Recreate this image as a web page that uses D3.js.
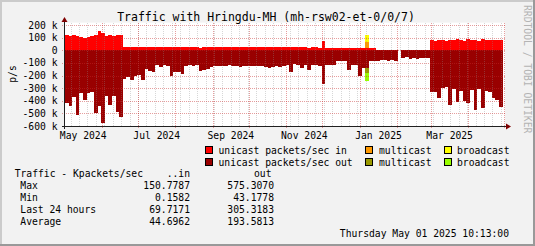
<!DOCTYPE html>
<html>
<head>
<meta charset="utf-8">
<script src="https://cdn.jsdelivr.net/npm/d3@7"></script>
<style>
  body { margin: 0; background: #f2f2f2; }
  svg { display: block; font-family: "DejaVu Sans Mono", monospace; }
</style>
</head>
<body>
<svg width="535" height="246"></svg>
<script>
// time range of the graph (one year) and bin size of the values below
const startDate = new Date(2024, 4, 1, 10, 13);
const endDate = new Date(2025, 4, 1, 10, 13);
const dataEnd = new Date(2025, 3, 30, 0, 0);
const binDays = 3;

// Kpackets/sec, one value per 3-day bin, null = no data
const unicastIn = [
  118,117,119,115,104,96,105,112,118,150,136,112,118,110,120,118,
  28,27,28,26,27,28,27,26,27,28,26,27,27,26,28,27,26,27,26,25,26,
  18,
  27,28,28,27,28,28,27,27,26,27,26,26,25,26,25,24,25,24,25,24,24,23,24,23,24,23,23,24,23,22,23,23,22,
  72,
  22,22,21,22,22,21,22,21,21,20,20,
  20,
  18,15,
  2,1,2,1,1,2,
  null,
  1,2,1,1,2,1,1,1,
  82,78,85,80,76,84,79,86,81,77,88,80,83,78,86,79,84,81,85,80,83
];
const unicastOut = [
  420,445,370,510,335,390,335,330,500,440,575,360,430,360,490,530,
  225,215,235,
  200,195,235,150,165,175,120,130,120,125,200,170,175,190,125,120,122,120,160,155,150,130,
  125,122,128,124,120,126,123,130,125,122,127,121,125,128,135,
  140,130,128,132,126,
  115,170,110,120,140,
  118,155,120,115,122,
  263,
  120,118,115,
  85,82,88,155,
  120,115,205,
  140,
  140,
  88,82,85,80,75,88,78,82,
  null,
  60,55,65,58,70,62,60,58,
  330,330,375,300,290,435,310,410,320,405,420,315,470,310,455,320,330,380,395,452,340
];
// the one burst of multicast / broadcast traffic (bin index)
const burstBins = [83];
const multicastIn = [48];
const broadcastIn = [52];
const multicastOut = [40];
const broadcastOut = [62];

const yTicks = [200, 100, 0, -100, -200, -300, -400, -500, -600];
const xLabels = ['May 2024', 'Jul 2024', 'Sep 2024', 'Nov 2024', 'Jan 2025', 'Mar 2025'];
const xLabelMonths = [new Date(2024, 4, 1), new Date(2024, 6, 1), new Date(2024, 8, 1),
  new Date(2024, 10, 1), new Date(2025, 0, 1), new Date(2025, 2, 1)];

const legendNames = ['unicast packets/sec in', 'multicast', 'broadcast',
  'unicast packets/sec out', 'multicast', 'broadcast'];
const legendColors = ['#ff0000', '#ff9900', '#ffff00', '#990000', '#999900', '#99ff00'];

const statLabels = ['Max', 'Min', 'Last 24 hours', 'Average'];
const statIn = ['150.7787', '0.1582', '69.7171', '44.6962'];
const statOut = ['575.3070', '43.1778', '305.3183', '193.5813'];

var svg = d3.select('svg');

// background with rrdtool style shading
svg.append('rect').attr('width', 535).attr('height', 246).attr('fill', '#f2f2f2');
svg.append('path').attr('d', 'M0,0H535V2H2V246H0Z').attr('fill', '#cbcbcb');
svg.append('path').attr('d', 'M535,246H0V244H533V0H535Z').attr('fill', '#999999');

var x = d3.scaleTime().domain([startDate, endDate]).range([65, 505]);
var y = d3.scaleLinear().domain([-600, 220]).range([126, 22.6]);

// plot canvas
svg.append('rect')
  .attr('x', 65).attr('y', y(220))
  .attr('width', 440).attr('height', y(-600) - y(220))
  .attr('fill', '#ffffff');

// build the table the stack needs
var rows = unicastIn.map((v, i) => {
  var b = burstBins.indexOf(i);
  var t0 = d3.timeDay.offset(startDate, i * binDays);
  var t1 = d3.timeDay.offset(startDate, (i + 1) * binDays);
  return {
    t0: t0, t1: t1 > dataEnd ? dataEnd : t1, ok: v !== null,
    uIn: v || 0, mIn: b < 0 ? 0 : multicastIn[b], bIn: b < 0 ? 0 : broadcastIn[b],
    uOut: -(unicastOut[i] || 0), mOut: b < 0 ? 0 : -multicastOut[b], bOut: b < 0 ? 0 : -broadcastOut[b]
  };
}).filter(d => d.ok && d.t0 < dataEnd);

var keys = ['uIn', 'mIn', 'bIn', 'uOut', 'mOut', 'bOut'];
var colorOf = { uIn: '#ff0000', mIn: '#ff9900', bIn: '#ffff00', uOut: '#990000', mOut: '#999900', bOut: '#99ff00' };
var stacked = d3.stack().keys(keys).offset(d3.stackOffsetDiverging)(rows);

stacked.forEach(layer => {
  svg.append('g')
    .attr('fill', colorOf[layer.key])
    .attr('shape-rendering', 'crispEdges')
    .selectAll('rect')
    .data(layer.filter(s => s[0] !== s[1]))
    .enter()
    .append('rect')
    .attr('x', s => x(s.data.t0))
    .attr('width', s => x(s.data.t1) - x(s.data.t0))
    .attr('y', s => y(Math.max(s[0], s[1])))
    .attr('height', s => Math.abs(y(s[0]) - y(s[1])));
});

// grid on top of the data
var grid = svg.append('g').attr('shape-rendering', 'crispEdges');
grid.selectAll('.minor')
  .data(d3.timeMonday.range(startDate, endDate))
  .enter().append('line')
  .attr('x1', d => Math.round(x(d)) + 0.5).attr('x2', d => Math.round(x(d)) + 0.5)
  .attr('y1', y(220)).attr('y2', y(-600))
  .attr('stroke', 'rgba(140,140,140,0.35)').attr('stroke-dasharray', '1,1');
grid.selectAll('.major')
  .data(d3.timeMonth.range(d3.timeMonth.ceil(startDate), endDate))
  .enter().append('line')
  .attr('x1', d => Math.round(x(d)) + 0.5).attr('x2', d => Math.round(x(d)) + 0.5)
  .attr('y1', y(220)).attr('y2', y(-600) + 2)
  .attr('stroke', 'rgba(200,40,40,0.45)').attr('stroke-dasharray', '1,1');
grid.selectAll('.hgrid')
  .data(yTicks)
  .enter().append('line')
  .attr('x1', 62).attr('x2', 505)
  .attr('y1', d => Math.round(y(d)) + 0.5).attr('y2', d => Math.round(y(d)) + 0.5)
  .attr('stroke', 'rgba(200,40,40,0.45)').attr('stroke-dasharray', '1,1');

// axes with arrows
svg.append('line').attr('x1', 62).attr('x2', 508).attr('y1', 126.5).attr('y2', 126.5)
  .attr('stroke', '#202020');
svg.append('line').attr('x1', 64.5).attr('x2', 64.5).attr('y1', 129).attr('y2', 20)
  .attr('stroke', '#202020');
svg.append('path').attr('d', 'M506,123.5L511,126.5L506,129.5Z').attr('fill', '#7f0000');
svg.append('path').attr('d', 'M61.5,22L64.5,17L67.5,22Z').attr('fill', '#7f0000');

// y tick labels
svg.append('g').attr('font-size', '9.7px').attr('text-anchor', 'end')
  .selectAll('text').data(yTicks).enter().append('text')
  .attr('x', 57.5).attr('y', d => y(d) + 3.5)
  .text(d => d === 0 ? '0' : (d / 100 * 100) + ' k');

// x labels centred in their month
svg.append('g').attr('font-size', '9.7px').attr('text-anchor', 'middle')
  .selectAll('text').data(xLabels).enter().append('text')
  .attr('x', (d, i) => (x(xLabelMonths[i]) + x(d3.timeMonth.offset(xLabelMonths[i], 1))) / 2)
  .attr('y', 138.7)
  .text(d => d);

// titles
svg.append('text').attr('x', 266).attr('y', 21.2).attr('text-anchor', 'middle')
  .attr('font-size', '11.5px').text('Traffic with Hringdu-MH (mh-rsw02-et-0/0/7)');
svg.append('text').attr('transform', 'translate(16,74) rotate(-90)')
  .attr('text-anchor', 'middle').attr('font-size', '9.7px').text('p/s');
svg.append('text').attr('transform', 'translate(524,5) rotate(90)')
  .attr('font-size', '9.7px').attr('fill', '#b4b4b4').text('RRDTOOL / TOBI OETIKER');

// legend
var legendX = [205.5, 365.5, 444.5];
var legend = svg.append('g').attr('font-size', '9.7px')
  .selectAll('g').data(legendNames).enter().append('g')
  .attr('transform', (d, i) => 'translate(' + legendX[i % 3] + ',' + (i < 3 ? 146.5 : 158.5) + ')');
legend.append('rect').attr('width', 7).attr('height', 7)
  .attr('fill', (d, i) => legendColors[i]).attr('stroke', '#000');
legend.append('text').attr('x', (d, i) => [13, 13.5, 12.5][i % 3]).attr('y', 7).text(d => d);

// stats table
var table = svg.append('g').attr('font-size', '9.7px');
table.append('text').attr('x', 14.7).attr('y', 177).text('Traffic - Kpackets/sec');
table.append('text').attr('x', 190).attr('y', 177).attr('text-anchor', 'end').text('..in');
table.append('text').attr('x', 271.5).attr('y', 177).attr('text-anchor', 'end').text('out');
statLabels.forEach((lab, i) => {
  var yy = 189.4 + i * 12;
  table.append('text').attr('x', 20.3).attr('y', yy).text(lab);
  table.append('text').attr('x', 190).attr('y', yy).attr('text-anchor', 'end').text(statIn[i]);
  table.append('text').attr('x', 274).attr('y', yy).attr('text-anchor', 'end').text(statOut[i]);
});
table.append('text').attr('x', 509).attr('y', 236.7).attr('text-anchor', 'end')
  .text('Thursday May 01 2025 10:13:00');
</script>
</body>
</html>
